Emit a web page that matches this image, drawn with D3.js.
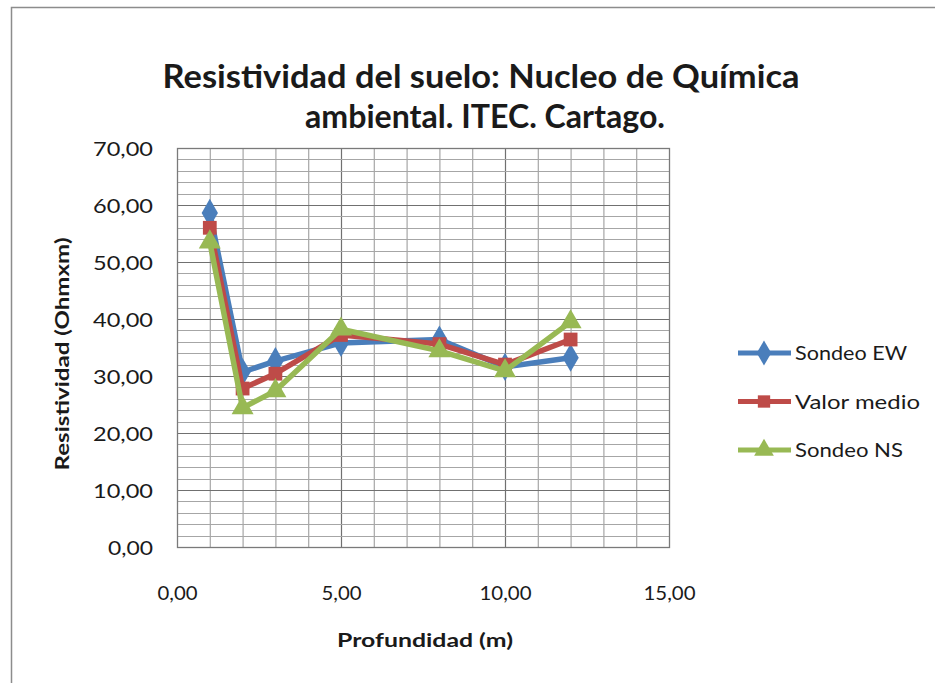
<!DOCTYPE html>
<html>
<head>
<meta charset="utf-8">
<script src="https://cdn.jsdelivr.net/npm/d3@7"></script>
<style>
  html, body { margin: 0; padding: 0; background: #fff; }
  svg { display: block; font-family: Lato, "Open Sans", sans-serif; }
</style>
</head>
<body>
<svg id="chart" width="935" height="683"></svg>
<script>
// Profundidad de cada sondeo (m)
const depths = [1, 2, 3, 5, 8, 10, 12];
// Resistividad medida (Ohm·m)
const sondeoEW   = [58.6, 30.7, 32.6, 35.8, 36.4, 31.6, 33.2];
const valorMedio = [56.0, 27.8, 30.4, 37.2, 35.6, 32.0, 36.4];
const sondeoNS   = [53.5, 24.4, 27.4, 38.2, 34.4, 30.9, 39.5];
const seriesNames = ["Sondeo EW", "Valor medio", "Sondeo NS"];
const xTicks = [0, 5, 10, 15];
const yTicks = [0, 10, 20, 30, 40, 50, 60, 70];
const titleLines = ["Resistividad del suelo: Nucleo de Química", "ambiental. ITEC. Cartago."];
const xTitle = "Profundidad (m)";
const yTitle = "Resistividad  (Ohmxm)";

const colors = ["#4A7EBB", "#BE4B48", "#98B954"];
const markers = [d3.symbolDiamond, d3.symbolSquare, d3.symbolTriangle];
const markerSizes = [230, 190, 210];

const es = d3.formatLocale({ decimal: ",", thousands: ".", grouping: [3], currency: ["", " €"] });
const fmt = es.format(".2f");

const svg = d3.select("#chart");

// outer frame of the chart object
svg.append("path")
  .attr("d", "M11.5,690 L11.5,7.5 L940,7.5")
  .attr("fill", "none").attr("stroke", "#8c8c8c").attr("stroke-width", 1.5);

const plot = { left: 177, right: 669, top: 148, bottom: 547 };
const x = d3.scaleLinear().domain([0, 15]).range([plot.left, plot.right]);
const y = d3.scaleLinear().domain([0, 70]).range([plot.bottom, plot.top]);

// grid: minor every 1 m / 2 Ohm·m, major at the tick values
const g = svg.append("g");
g.selectAll("line.vminor").data(d3.range(1, 15)).join("line")
  .attr("x1", d => x(d) + 0.5).attr("x2", d => x(d) + 0.5)
  .attr("y1", plot.top).attr("y2", plot.bottom)
  .attr("stroke", d => d % 5 === 0 ? "#707070" : "#a6a6a6").attr("stroke-width", 1.2);
g.selectAll("line.hminor").data(d3.range(2, 70, 2)).join("line")
  .attr("y1", d => Math.round(y(d)) + 0.5).attr("y2", d => Math.round(y(d)) + 0.5)
  .attr("x1", plot.left).attr("x2", plot.right)
  .attr("stroke", d => d % 10 === 0 ? "#707070" : "#a6a6a6").attr("stroke-width", 1.2);
g.append("rect")
  .attr("x", plot.left + 0.5).attr("y", plot.top + 0.5)
  .attr("width", plot.right - plot.left).attr("height", plot.bottom - plot.top)
  .attr("fill", "none").attr("stroke", "#7a7a7a").attr("stroke-width", 1.3);

// axis labels via d3 axes (no domain/tick lines, only text)
const yAxis = svg.append("g").attr("transform", `translate(${plot.left},0)`)
  .call(d3.axisLeft(y).tickValues(yTicks).tickFormat(fmt).tickSize(0).tickPadding(24));
const xAxis = svg.append("g").attr("transform", `translate(0,${plot.bottom})`)
  .call(d3.axisBottom(x).tickValues(xTicks).tickFormat(fmt).tickSize(0).tickPadding(46));
[yAxis, xAxis].forEach(a => {
  a.select(".domain").remove();
  a.selectAll("text").attr("font-family", "Lato, sans-serif")
    .attr("font-size", 20).attr("fill", "#1a1a1a");
});
yAxis.selectAll("text").attr("dy", "0.36em")
  .attr("textLength", d => d >= 10 ? 60 : 45).attr("lengthAdjust", "spacingAndGlyphs");
xAxis.selectAll("text").attr("dy", "0.36em")
  .attr("textLength", d => d >= 10 ? 52 : 40).attr("lengthAdjust", "spacingAndGlyphs");

// series
const seriesData = [sondeoEW, valorMedio, sondeoNS].map((vals, i) => ({
  name: seriesNames[i], color: colors[i], marker: markers[i], size: markerSizes[i],
  points: depths.map((d, j) => ({ x: d, y: vals[j] }))
}));
const line = d3.line().x(d => x(d.x)).y(d => y(d.y));
const sg = svg.append("g").selectAll("g").data(seriesData).join("g");
sg.append("path")
  .attr("d", s => line(s.points))
  .attr("fill", "none").attr("stroke", s => s.color)
  .attr("stroke-width", 5.5).attr("stroke-linejoin", "round");
sg.each(function (s) {
  d3.select(this).selectAll("path.m").data(s.points).join("path")
    .attr("class", "m")
    .attr("transform", d => `translate(${x(d.x)},${y(d.y)})`)
    .attr("d", d3.symbol().type(s.marker).size(s.size))
    .attr("fill", s.color);
});

// legend
const lg = svg.append("g").selectAll("g").data(seriesData).join("g")
  .attr("transform", (d, i) => `translate(0,${353 + i * 48.5})`);
lg.append("line").attr("x1", 738).attr("x2", 791).attr("y1", 0).attr("y2", 0)
  .attr("stroke", d => d.color).attr("stroke-width", 5);
lg.append("path").attr("transform", "translate(764,0)")
  .attr("d", d => d3.symbol().type(d.marker).size(d.size * 0.8)())
  .attr("fill", d => d.color);
lg.append("text").attr("x", 795).attr("y", 0).attr("dy", "0.36em")
  .attr("font-size", 20).attr("fill", "#1a1a1a")
  .attr("textLength", (d, i) => [112, 125, 108][i]).attr("lengthAdjust", "spacingAndGlyphs")
  .text(d => d.name);

// titles
svg.selectAll("text.title").data(titleLines).join("text")
  .attr("class", "title")
  .attr("x", (d, i) => [481, 485][i]).attr("y", (d, i) => [88, 128][i])
  .attr("text-anchor", "middle").attr("font-size", 32).attr("font-weight", "bold")
  .attr("fill", "#1a1a1a")
  .attr("textLength", (d, i) => [637, 360][i]).attr("lengthAdjust", "spacingAndGlyphs")
  .text(d => d);

svg.append("text").attr("x", 425).attr("y", 647).attr("text-anchor", "middle")
  .attr("font-size", 19).attr("font-weight", "bold").attr("fill", "#1a1a1a")
  .attr("textLength", 176).attr("lengthAdjust", "spacingAndGlyphs")
  .text(xTitle);
svg.append("text").attr("transform", "translate(69,354) rotate(-90)")
  .attr("text-anchor", "middle")
  .attr("font-size", 19).attr("font-weight", "bold").attr("fill", "#1a1a1a")
  .attr("textLength", 233).attr("lengthAdjust", "spacingAndGlyphs")
  .text(yTitle);
</script>
</body>
</html>
